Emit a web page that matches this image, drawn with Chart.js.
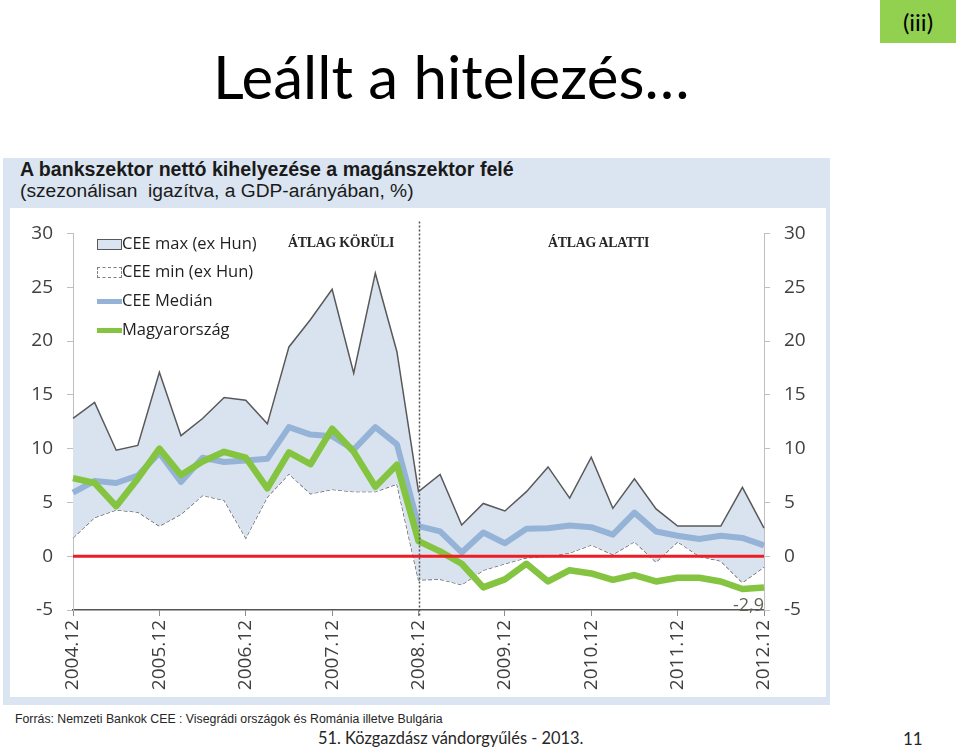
<!DOCTYPE html>
<html lang="hu">
<head>
<meta charset="utf-8">
<title>Leállt a hitelezés…</title>
<script src="https://cdn.jsdelivr.net/npm/chart.js@4.4.1/dist/chart.umd.min.js"></script>
<style>
  html, body { margin: 0; padding: 0; background: #fff; }
  body { width: 960px; height: 750px; position: relative; overflow: hidden; font-family: "Open Sans", sans-serif; color: #000; }
  .abs { position: absolute; white-space: nowrap; }
  #title { left: 213px; top: 40px; font-family: Lato, sans-serif; font-size: 60px; line-height: 72px; }
  #tag { left: 880px; top: 0; width: 76px; height: 43px; background: #92d050; font-family: Lato, sans-serif; font-size: 24px; line-height: 43px; text-align: center; }
  #panel { left: 3px; top: 158px; width: 827px; height: 547px; background: #dbe5f1; }
  #plotBg { left: 10px; top: 208px; width: 816px; height: 489px; background: #fff; }
  #head1 { left: 20px; top: 157px; font-family: "Liberation Sans", Arial, sans-serif; font-weight: bold; font-size: 19.6px; line-height: 24px; color: #1a1a1a; }
  #head2 { left: 20px; top: 179px; font-family: "Liberation Sans", Arial, sans-serif; font-size: 19.2px; line-height: 24px; color: #1a1a1a; }
  #chartBox { left: 10px; top: 208px; width: 815px; height: 490px; }
  .legendItem { position: absolute; left: 97px; font-size: 16.5px; line-height: 20px; color: #1f1f1f; white-space: nowrap; }
  .legendItem .icon { display: inline-block; width: 25px; vertical-align: middle; box-sizing: border-box; }
  .note { font-family: "Liberation Serif", serif; font-weight: bold; font-size: 13.8px; color: #262626; letter-spacing: -0.2px; }
  #source { left: 15px; top: 712px; font-family: "Liberation Sans Narrow", "Liberation Sans", sans-serif; font-size: 12.3px; color: #262626; }
  #footer { left: 318px; top: 728px; font-family: Lato, sans-serif; font-size: 16.4px; color: #262626; }
  #pageNo { left: 903px; top: 728px; font-family: Lato, sans-serif; font-size: 17px; color: #262626; }
</style>
</head>
<body>
<div id="title" class="abs">Leállt a hitelezés…</div>
<div id="tag" class="abs">(iii)</div>
<div id="panel" class="abs"></div>
<div id="plotBg" class="abs"></div>
<div id="head1" class="abs">A bankszektor nettó kihelyezése a magánszektor felé</div>
<div id="head2" class="abs">(szezonálisan &nbsp;igazítva, a GDP-arányában, %)</div>
<div id="chartBox" class="abs"><canvas id="chart" width="815" height="490"></canvas></div>

<div class="legendItem" style="top:233px"><span class="icon" style="height:11px;background:#dbe5f1;border:1px solid #595959"></span>CEE max (ex Hun)</div>
<div class="legendItem" style="top:261px"><span class="icon" style="height:11px;background:#fff;border:1px dashed #7f7f7f"></span>CEE min (ex Hun)</div>
<div class="legendItem" style="top:290px"><span class="icon" style="height:5px;background:#95b3d7"></span>CEE Medián</div>
<div class="legendItem" style="top:319px"><span class="icon" style="height:5px;background:#84c441"></span>Magyarország</div>
<div class="abs note" style="left:288px;top:235px">ÁTLAG KÖRÜLI</div>
<div class="abs note" style="left:548px;top:235px">ÁTLAG ALATTI</div>

<div id="source" class="abs">Forrás: Nemzeti Bankok CEE : Visegrádi országok és Románia illetve Bulgária</div>
<div id="footer" class="abs">51. Közgazdász vándorgyűlés - 2013.</div>
<div id="pageNo" class="abs">11</div>

<script>
// quarterly observations, 2004 Q4 .. 2012 Q4
const quarters = [
    '2004.12', '2005.03', '2005.06', '2005.09',
    '2005.12', '2006.03', '2006.06', '2006.09',
    '2006.12', '2007.03', '2007.06', '2007.09',
    '2007.12', '2008.03', '2008.06', '2008.09',
    '2008.12', '2009.03', '2009.06', '2009.09',
    '2009.12', '2010.03', '2010.06', '2010.09',
    '2010.12', '2011.03', '2011.06', '2011.09',
    '2011.12', '2012.03', '2012.06', '2012.09',
    '2012.12'
];

const ceeMax = [12.8, 14.3, 9.85, 10.3, 17.1, 11.2, 12.8, 14.75, 14.5, 12.3, 19.45, 22.0, 24.8, 17.0, 26.3, 19.0,
    6.0, 7.6, 2.9, 4.9, 4.2, 6.0, 8.3, 5.4, 9.2, 4.45, 7.2, 4.4, 2.8, 2.8, 2.8, 6.4, 2.6];

const ceeMin = [1.7, 3.6, 4.3, 4.1, 2.8, 3.9, 5.65, 5.2, 1.7, 5.5, 7.65, 5.8, 6.2, 6.0, 6.0, 6.7,
    -2.2, -2.15, -2.65, -1.3, -0.7, -0.15, 0.0, 0.3, 1.05, 0.15, 1.35, -0.55, 1.35, 0.0, -0.45, -2.45, -1.0];

const ceeMedian = [5.9, 7.0, 6.8, 7.5, 9.6, 6.9, 9.15, 8.75, 8.9, 9.05, 12.0, 11.3, 11.15, 9.9, 12.0, 10.4,
    2.8, 2.3, 0.35, 2.2, 1.2, 2.55, 2.6, 2.85, 2.7, 2.0, 4.05, 2.3, 1.9, 1.6, 1.9, 1.7, 1.0];

const hungary = [7.25, 6.8, 4.65, 7.2, 10.0, 7.55, 8.8, 9.7, 9.15, 6.3, 9.65, 8.55, 11.85, 9.7, 6.45, 8.5,
    1.4, 0.45, -0.7, -2.9, -2.15, -0.7, -2.35, -1.3, -1.6, -2.2, -1.75, -2.35, -2.0, -2.0, -2.35, -3.05, -2.9];

const yTicks = [-5, 0, 5, 10, 15, 20, 25, 30];
const yearTickEvery = 4;
const breakLabel = '2008.12';

const axisFont = { family: 'Open Sans', size: 19 };
const axisColor = '#404040';

// zero line, crisis divider and last-value label
const overlayPlugin = {
    id: 'overlay',
    afterDatasetsDraw(chart) {
        const { ctx, chartArea, scales } = chart;
        const y0 = scales.y.getPixelForValue(0);
        ctx.save();
        ctx.strokeStyle = '#ee1c25';
        ctx.lineWidth = 3;
        ctx.beginPath();
        ctx.moveTo(chartArea.left, y0);
        ctx.lineTo(chartArea.right, y0);
        ctx.stroke();

        const xb = Math.round(scales.x.getPixelForValue(quarters.indexOf(breakLabel))) + 0.5;
        ctx.strokeStyle = '#555';
        ctx.lineWidth = 1.5;
        ctx.setLineDash([2, 2]);
        ctx.beginPath();
        ctx.moveTo(xb, chartArea.top - 12);
        ctx.lineTo(xb, chartArea.bottom + 6);
        ctx.stroke();
        ctx.setLineDash([]);

        const last = hungary.length - 1;
        const lx = scales.x.getPixelForValue(last);
        const ly = scales.y.getPixelForValue(hungary[last]);
        ctx.fillStyle = '#5f6355';
        ctx.font = '18px "Open Sans"';
        ctx.textAlign = 'right';
        ctx.textBaseline = 'middle';
        ctx.fillText(String(hungary[last]).replace('.', ','), lx, ly + 18);
        ctx.restore();
    }
};

function yAxis(position) {
    return {
        type: 'linear',
        position: position,
        min: -5,
        max: 30,
        afterBuildTicks(scale) { scale.ticks = yTicks.map(v => ({ value: v })); },
        afterFit(scale) { scale.width = position === 'left' ? 63 : 61; },
        ticks: { color: axisColor, font: axisFont, padding: 14 },
        grid: { drawOnChartArea: false, drawTicks: true, tickLength: 6, color: '#bfbfbf' },
        border: { display: true, color: '#bfbfbf', width: 1 }
    };
}

document.addEventListener('DOMContentLoaded', () => {
    const ctx = document.getElementById('chart').getContext('2d');

    new Chart(ctx, {
        type: 'line',
        data: {
            labels: quarters,
            datasets: [
                {
                    label: 'CEE max (ex Hun)',
                    data: ceeMax,
                    borderColor: '#595959',
                    borderWidth: 1.5,
                    backgroundColor: '#d9e3f0',
                    fill: '+1',
                    order: 2
                },
                {
                    label: 'CEE min (ex Hun)',
                    data: ceeMin,
                    borderColor: '#555',
                    borderWidth: 1.2,
                    borderDash: [4, 2],
                    fill: false,
                    order: 3
                },
                {
                    label: 'CEE Medián',
                    data: ceeMedian,
                    borderColor: '#95b3d7',
                    borderWidth: 6,
                    borderJoinStyle: 'round',
                    fill: false,
                    order: 1
                },
                {
                    label: 'Magyarország',
                    data: hungary,
                    borderColor: '#84c441',
                    borderWidth: 6.5,
                    borderJoinStyle: 'round',
                    fill: false,
                    order: 0
                }
            ]
        },
        options: {
            responsive: false,
            animation: false,
            devicePixelRatio: 1,
            layout: { padding: { top: 16, left: 0, right: 0, bottom: 0 } },
            elements: { point: { radius: 0 }, line: { tension: 0 } },
            plugins: {
                legend: { display: false },
                tooltip: { enabled: false }
            },
            scales: {
                x: {
                    type: 'category',
                    offset: false,
                    afterFit(scale) { scale.height = 88; },
                    ticks: {
                        autoSkip: false,
                        minRotation: 90,
                        maxRotation: 90,
                        padding: 4,
                        color: axisColor,
                        font: axisFont,
                        callback: (val, i) => (i % yearTickEvery === 0 ? quarters[i] : null)
                    },
                    grid: { drawOnChartArea: false, drawTicks: true, tickLength: 6, color: '#8c8c8c' },
                    border: { display: true, color: '#555', width: 1.5, dash: [3, 2] }
                },
                y: yAxis('left'),
                y2: yAxis('right')
            }
        },
        plugins: [overlayPlugin]
    });
});
</script>
</body>
</html>
